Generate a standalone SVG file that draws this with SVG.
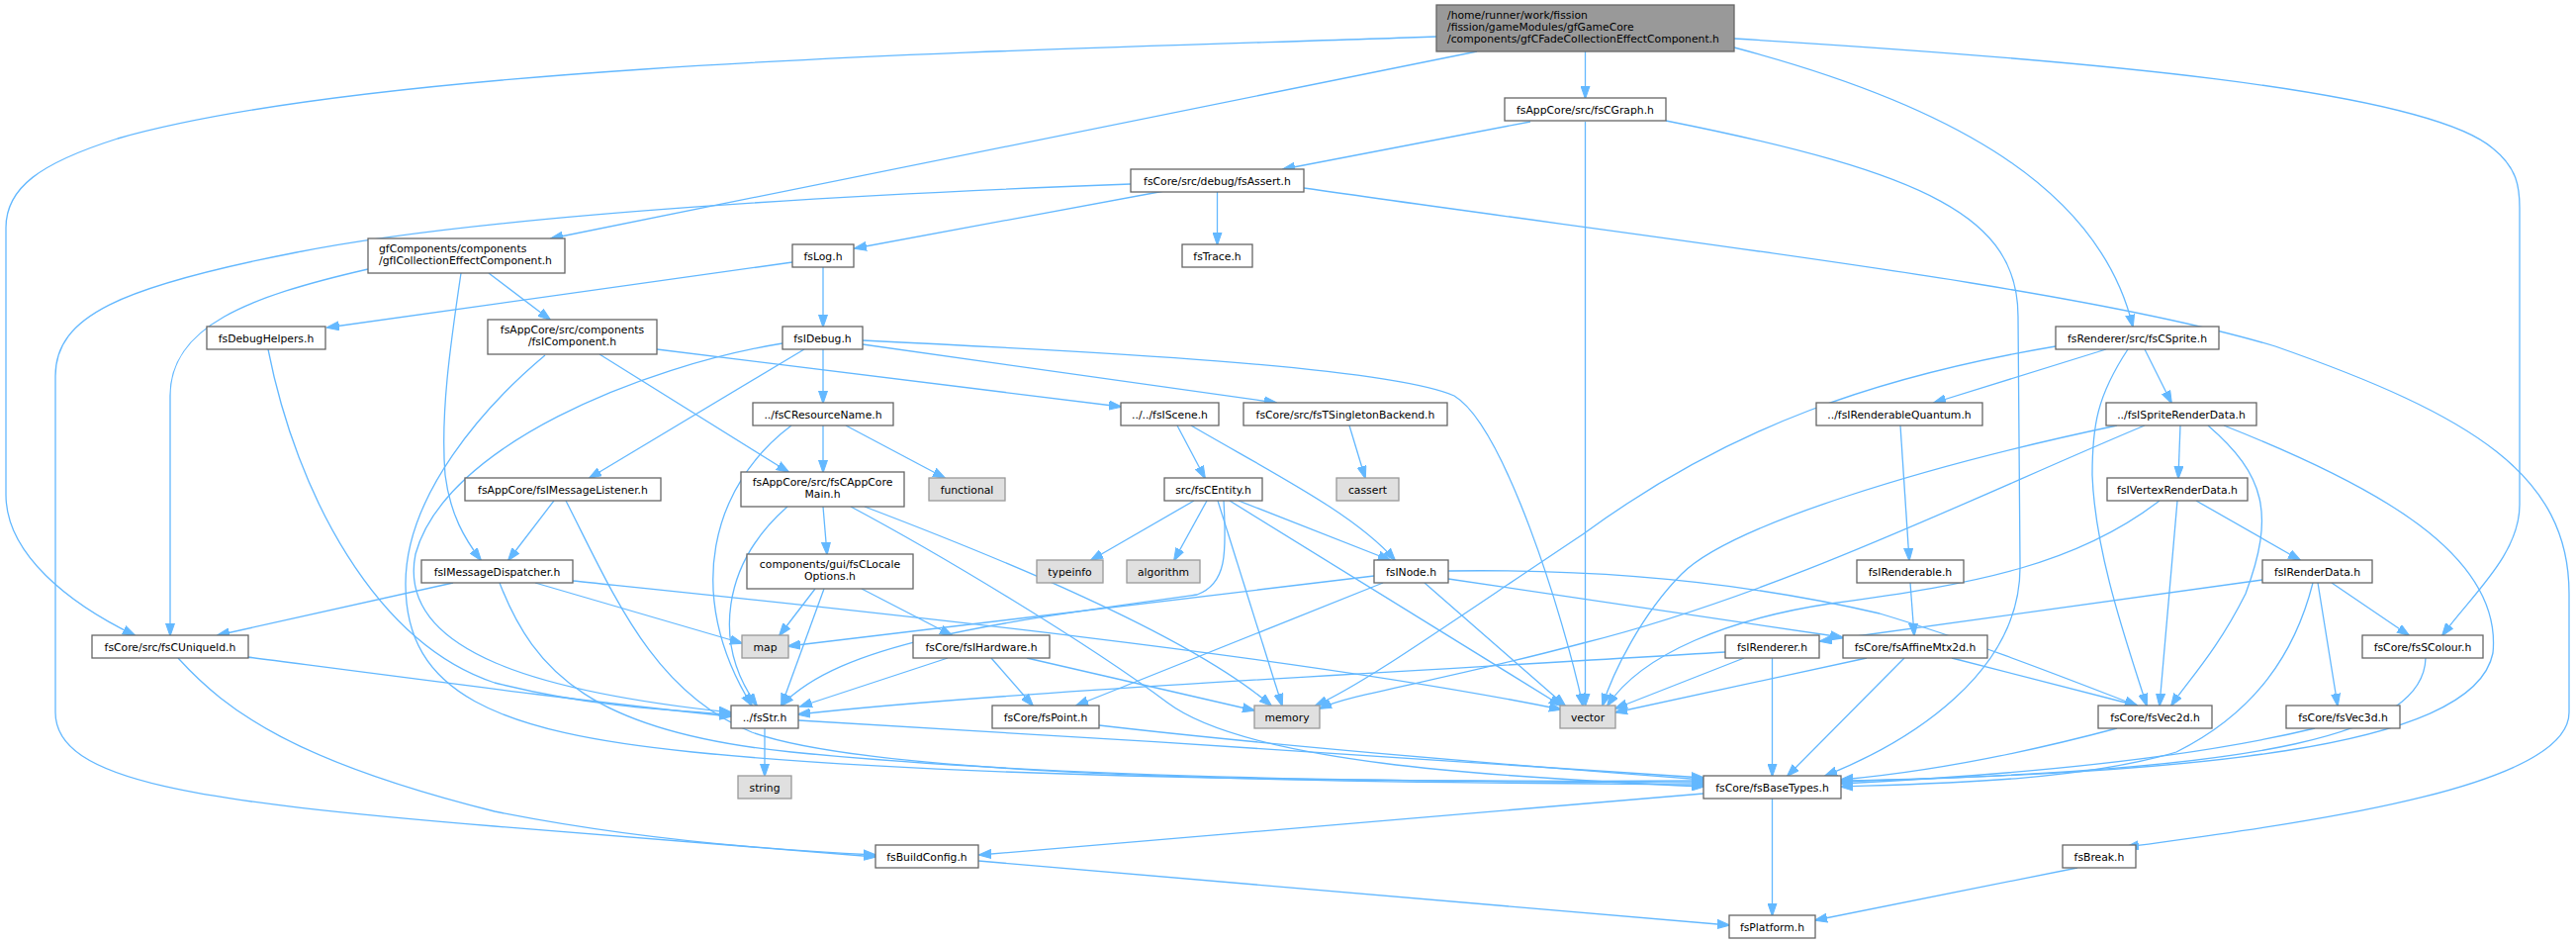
<svg xmlns="http://www.w3.org/2000/svg" width="2604" height="953" viewBox="0 0 2604 953">
<style>
text{font-family:"DejaVu Sans","Liberation Sans",sans-serif;font-size:10.8px;fill:#000}
.c{text-anchor:middle}
.n rect{fill:#fff;stroke:#666;stroke-width:1.3}
.s rect{fill:#e0e0e0;stroke:#999;stroke-width:1.3}
.m rect{fill:#999;stroke:#666;stroke-width:1.3}
#edges path{fill:none;stroke:#63b8ff;stroke-width:1.3;marker-end:url(#a)}
</style>
<defs>
<marker id="a" markerWidth="13" markerHeight="10" refX="12" refY="5" orient="auto" markerUnits="userSpaceOnUse"><path d="M0,0.5 L13,5 L0,9.5 z" fill="#63b8ff" stroke="#63b8ff" stroke-width="1"/></marker>
</defs>
<rect width="2604" height="953" fill="#fff"/>
<g id="edges">
<path d="M1602.5,52 L1602.5,99"/>
<path d="M1493,52 L557,241"/>
<path d="M1452,37 C1100,50 400,60 119,140 C40,165 6,190 6,230 L6,500 C6,560 70,610 136,642"/>
<path d="M1753,48 C1950,100 2120,180 2156,330"/>
<path d="M1753,39 C2100,60 2450,90 2520,150 C2545,170 2547,190 2547,210 L2547,510 C2547,560 2500,600 2469,642"/>
<path d="M1547,123 L1297,171"/>
<path d="M1602.5,123 L1602.5,713"/>
<path d="M1684,122 C1950,175 2040,220 2040,320 L2042,570 C2044,680 1930,750 1845,784"/>
<path d="M1177,193 L864,251"/>
<path d="M1230.5,194 L1230.5,247"/>
<path d="M1143,186 C900,195 500,215 300,255 C120,290 56,320 56,380 L56,720 C56,790 200,810 500,835 C700,850 820,860 885,866"/>
<path d="M1318,190 C1700,245 2100,290 2300,350 C2500,420 2597,480 2597,600 L2597,720 C2597,800 2300,835 2150,856"/>
<path d="M801,265 L331,331"/>
<path d="M832,270 L832,330"/>
<path d="M271,353 C300,500 380,650 500,690 C600,715 680,718 739,722"/>
<path d="M832,353 L832,407"/>
<path d="M813,353 L596,483"/>
<path d="M791,347 C650,370 450,450 420,560 C400,660 550,700 739,720"/>
<path d="M872,348 L1290,407"/>
<path d="M872,344 C1100,355 1400,370 1470,400 C1520,430 1580,620 1600,713"/>
<path d="M855,430 L955,483"/>
<path d="M832,430 L832,477"/>
<path d="M800,430 C720,490 690,600 760,713"/>
<path d="M1190,430 L1218,483"/>
<path d="M1204,430 C1290,480 1370,520 1410,566"/>
<path d="M1364,430 L1380,483"/>
<path d="M1207,506 L1103,566"/>
<path d="M1220,506 L1187,566"/>
<path d="M1231,506 L1296,713"/>
<path d="M1243,506 L1578,713"/>
<path d="M1252,506 L1405,566"/>
<path d="M1237,506 C1240,560 1240,590 1210,601 C1000,630 850,650 790,713"/>
<path d="M1389,582 L797,653"/>
<path d="M1398,589 L1088,713"/>
<path d="M1440,589 L1582,713"/>
<path d="M1464,577 C1600,575 1750,585 1900,620 C2000,650 2100,690 2160,713"/>
<path d="M1464,585 L1862,644"/>
<path d="M832,512 L836,560"/>
<path d="M796,512 C730,570 720,650 765,713"/>
<path d="M874,512 C1000,560 1200,640 1285,713"/>
<path d="M860,512 C950,560 1100,650 1180,710 C1260,770 1500,785 1722,795"/>
<path d="M824,595 L788,642"/>
<path d="M833,595 L790,713"/>
<path d="M871,595 L962,642"/>
<path d="M958,665 L809,714"/>
<path d="M1002,665 L1044,713"/>
<path d="M1038,665 L1268,718"/>
<path d="M560,506 L514,566"/>
<path d="M572,506 C620,600 660,700 760,740 C900,790 1400,790 1722,793"/>
<path d="M458,589 L220,642"/>
<path d="M541,589 L750,650"/>
<path d="M579,587 C800,610 1300,660 1578,717"/>
<path d="M505,589 C540,680 600,740 800,760 C1100,790 1500,790 1722,791"/>
<path d="M250,664 C450,690 600,710 739,724"/>
<path d="M180,665 C230,720 300,770 500,820 C650,850 800,860 885,864"/>
<path d="M606,358 L797,477"/>
<path d="M664,353 L1133,411"/>
<path d="M551,359 C490,410 410,500 410,590 C410,700 500,740 700,760 C1000,790 1500,790 1722,789"/>
<path d="M372,272 C250,300 172,330 172,400 L172,642"/>
<path d="M494,276 L556,323"/>
<path d="M466,276 C455,350 445,420 450,480 C455,520 470,545 486,566"/>
<path d="M2129,353 L1955,407"/>
<path d="M2168,353 L2195,407"/>
<path d="M2151,353 C2120,400 2115,430 2115,480 C2118,560 2150,650 2170,713"/>
<path d="M2078,350 C1900,380 1750,430 1600,540 C1450,640 1380,690 1330,713"/>
<path d="M1921,430 L1930,566"/>
<path d="M1931,589 L1935,642"/>
<path d="M2204,430 L2202,483"/>
<path d="M2232,430 C2290,480 2300,520 2270,600 C2240,660 2210,690 2195,713"/>
<path d="M2248,430 C2400,490 2530,560 2520,660 C2500,760 2200,780 1861,790"/>
<path d="M2140,430 C1950,470 1750,530 1700,580 C1660,620 1630,680 1620,713"/>
<path d="M2168,430 C2000,500 1800,600 1600,650 C1450,690 1370,700 1334,716"/>
<path d="M2220,506 L2325,566"/>
<path d="M2201,506 L2183,713"/>
<path d="M2183,506 C2100,570 2000,590 1850,610 C1750,625 1660,660 1625,713"/>
<path d="M2287,586 L1840,648"/>
<path d="M2357,589 L2435,642"/>
<path d="M2343,589 L2363,713"/>
<path d="M2338,589 C2320,660 2280,720 2200,760 C2100,790 1950,792 1861,795"/>
<path d="M1763,665 L1633,716"/>
<path d="M1744,659 C1400,680 1000,700 807,722"/>
<path d="M1791.5,665 L1791.5,784"/>
<path d="M1887,665 L1633,720"/>
<path d="M1973,665 L2160,713"/>
<path d="M1925,665 L1807,784"/>
<path d="M2452,665 C2450,740 2300,780 1861,789"/>
<path d="M2140,736 C2050,760 1950,780 1861,788"/>
<path d="M2340,736 C2200,770 2000,785 1861,792"/>
<path d="M1111,733 C1300,755 1550,775 1722,788"/>
<path d="M773,736 L773,784"/>
<path d="M807,728 C1100,745 1500,770 1722,786"/>
<path d="M1722,802 L990,864"/>
<path d="M1791.5,807 L1791.5,925"/>
<path d="M989,870 L1748,935"/>
<path d="M2100,877 L1835,930"/>
</g>
<g id="n_main" class="m"><rect x="1452" y="5" width="301" height="47"/><text x="1463" y="19">/home/runner/work/fission</text><text x="1463" y="31">/fission/gameModules/gfGameCore</text><text x="1463" y="43">/components/gfCFadeCollectionEffectComponent.h</text></g>
<g id="n_graph" class="n"><rect x="1521" y="99" width="163" height="23"/><text class="c" x="1602.5" y="114.5">fsAppCore/src/fsCGraph.h</text></g>
<g id="n_assert" class="n"><rect x="1143" y="171" width="175" height="23"/><text class="c" x="1230.5" y="186.5">fsCore/src/debug/fsAssert.h</text></g>
<g id="n_gfic" class="n"><rect x="372" y="241" width="199" height="35"/><text x="383" y="255">gfComponents/components</text><text x="383" y="267">/gfICollectionEffectComponent.h</text></g>
<g id="n_log" class="n"><rect x="801" y="247" width="62" height="23"/><text class="c" x="832" y="262.5">fsLog.h</text></g>
<g id="n_trace" class="n"><rect x="1195" y="247" width="71" height="23"/><text class="c" x="1230.5" y="262.5">fsTrace.h</text></g>
<g id="n_dbghelp" class="n"><rect x="209" y="330" width="120" height="23"/><text class="c" x="269" y="345.5">fsDebugHelpers.h</text></g>
<g id="n_icomp" class="n"><rect x="493" y="323" width="171" height="35"/><text class="c" x="578.5" y="337">fsAppCore/src/components</text><text class="c" x="578.5" y="349">/fsIComponent.h</text></g>
<g id="n_idebug" class="n"><rect x="791" y="330" width="81" height="23"/><text class="c" x="831.5" y="345.5">fsIDebug.h</text></g>
<g id="n_sprite" class="n"><rect x="2078" y="330" width="165" height="23"/><text class="c" x="2160.5" y="345.5">fsRenderer/src/fsCSprite.h</text></g>
<g id="n_resname" class="n"><rect x="761" y="407" width="142" height="23"/><text class="c" x="832" y="422.5">../fsCResourceName.h</text></g>
<g id="n_scene" class="n"><rect x="1133" y="407" width="99" height="23"/><text class="c" x="1182.5" y="422.5">../../fsIScene.h</text></g>
<g id="n_singleton" class="n"><rect x="1257" y="407" width="206" height="23"/><text class="c" x="1360" y="422.5">fsCore/src/fsTSingletonBackend.h</text></g>
<g id="n_quantum" class="n"><rect x="1836" y="407" width="168" height="23"/><text class="c" x="1920" y="422.5">../fsIRenderableQuantum.h</text></g>
<g id="n_spriterd" class="n"><rect x="2129" y="407" width="152" height="23"/><text class="c" x="2205" y="422.5">../fsISpriteRenderData.h</text></g>
<g id="n_msglistener" class="n"><rect x="470" y="483" width="198" height="23"/><text class="c" x="569" y="498.5">fsAppCore/fsIMessageListener.h</text></g>
<g id="n_appmain" class="n"><rect x="749" y="477" width="165" height="35"/><text class="c" x="831.5" y="491">fsAppCore/src/fsCAppCore</text><text class="c" x="831.5" y="503">Main.h</text></g>
<g id="n_functional" class="s"><rect x="939" y="483" width="77" height="23"/><text class="c" x="977.5" y="498.5">functional</text></g>
<g id="n_entity" class="n"><rect x="1177" y="483" width="99" height="23"/><text class="c" x="1226.5" y="498.5">src/fsCEntity.h</text></g>
<g id="n_cassert" class="s"><rect x="1351" y="483" width="63" height="23"/><text class="c" x="1382.5" y="498.5">cassert</text></g>
<g id="n_vertexrd" class="n"><rect x="2130" y="483" width="142" height="23"/><text class="c" x="2201" y="498.5">fsIVertexRenderData.h</text></g>
<g id="n_dispatcher" class="n"><rect x="426" y="566" width="153" height="23"/><text class="c" x="502.5" y="581.5">fsIMessageDispatcher.h</text></g>
<g id="n_locale" class="n"><rect x="755" y="560" width="168" height="35"/><text class="c" x="839" y="574">components/gui/fsCLocale</text><text class="c" x="839" y="586">Options.h</text></g>
<g id="n_typeinfo" class="s"><rect x="1048" y="566" width="67" height="23"/><text class="c" x="1081.5" y="581.5">typeinfo</text></g>
<g id="n_algorithm" class="s"><rect x="1139" y="566" width="74" height="23"/><text class="c" x="1176" y="581.5">algorithm</text></g>
<g id="n_inode" class="n"><rect x="1389" y="566" width="75" height="23"/><text class="c" x="1426.5" y="581.5">fsINode.h</text></g>
<g id="n_renderable" class="n"><rect x="1877" y="566" width="108" height="23"/><text class="c" x="1931" y="581.5">fsIRenderable.h</text></g>
<g id="n_renderdata" class="n"><rect x="2287" y="566" width="111" height="23"/><text class="c" x="2342.5" y="581.5">fsIRenderData.h</text></g>
<g id="n_uniqueid" class="n"><rect x="93" y="642" width="158" height="23"/><text class="c" x="172" y="657.5">fsCore/src/fsCUniqueId.h</text></g>
<g id="n_map" class="s"><rect x="750" y="642" width="47" height="23"/><text class="c" x="773.5" y="657.5">map</text></g>
<g id="n_hardware" class="n"><rect x="923" y="642" width="138" height="23"/><text class="c" x="992" y="657.5">fsCore/fsIHardware.h</text></g>
<g id="n_renderer" class="n"><rect x="1744" y="642" width="95" height="23"/><text class="c" x="1791.5" y="657.5">fsIRenderer.h</text></g>
<g id="n_affine" class="n"><rect x="1863" y="642" width="146" height="23"/><text class="c" x="1936" y="657.5">fsCore/fsAffineMtx2d.h</text></g>
<g id="n_scolour" class="n"><rect x="2388" y="642" width="122" height="23"/><text class="c" x="2449" y="657.5">fsCore/fsSColour.h</text></g>
<g id="n_str" class="n"><rect x="739" y="713" width="68" height="23"/><text class="c" x="773" y="728.5">../fsStr.h</text></g>
<g id="n_point" class="n"><rect x="1003" y="713" width="108" height="23"/><text class="c" x="1057" y="728.5">fsCore/fsPoint.h</text></g>
<g id="n_memory" class="s"><rect x="1268" y="713" width="66" height="23"/><text class="c" x="1301" y="728.5">memory</text></g>
<g id="n_vector" class="s"><rect x="1577" y="713" width="56" height="23"/><text class="c" x="1605" y="728.5">vector</text></g>
<g id="n_vec2d" class="n"><rect x="2121" y="713" width="115" height="23"/><text class="c" x="2178.5" y="728.5">fsCore/fsVec2d.h</text></g>
<g id="n_vec3d" class="n"><rect x="2311" y="713" width="115" height="23"/><text class="c" x="2368.5" y="728.5">fsCore/fsVec3d.h</text></g>
<g id="n_string" class="s"><rect x="746" y="784" width="54" height="23"/><text class="c" x="773" y="799.5">string</text></g>
<g id="n_basetypes" class="n"><rect x="1722" y="784" width="139" height="23"/><text class="c" x="1791.5" y="799.5">fsCore/fsBaseTypes.h</text></g>
<g id="n_buildconfig" class="n"><rect x="885" y="854" width="104" height="23"/><text class="c" x="937" y="869.5">fsBuildConfig.h</text></g>
<g id="n_break" class="n"><rect x="2085" y="854" width="74" height="23"/><text class="c" x="2122" y="869.5">fsBreak.h</text></g>
<g id="n_platform" class="n"><rect x="1748" y="925" width="87" height="23"/><text class="c" x="1791.5" y="940.5">fsPlatform.h</text></g>
</svg>
